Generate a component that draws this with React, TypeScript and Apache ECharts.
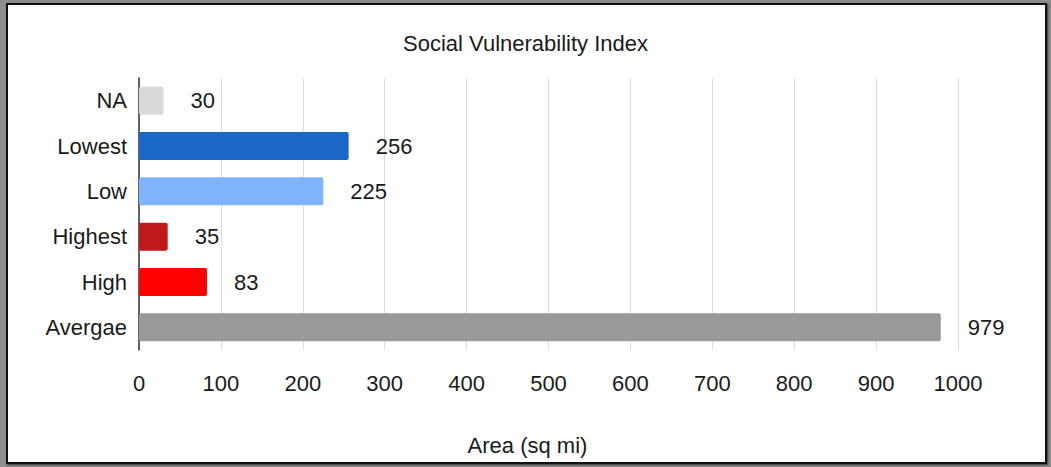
import React, { useEffect, useRef } from "react";
import * as echarts from "echarts";

const categories = ["NA", "Lowest", "Low", "Highest", "High", "Avergae"];
const values = [30, 256, 225, 35, 83, 979];
const barColors = ["#d9d9d9", "#1b67c5", "#7fb3fc", "#c0191b", "#ff0000", "#999999"];
const xTicks = { min: 0, max: 1000, interval: 100 };
const titleText = "Social Vulnerability Index";
const xAxisName = "Area (sq mi)";

const FONT = "'Liberation Sans', Arial, sans-serif";
const TXT = "#1a1a1a";

export default function App() {
  const ref = useRef<HTMLDivElement>(null);
  useEffect(() => {
    if (!ref.current) return;
    const chart = echarts.init(ref.current, null, { renderer: "svg" });
    chart.setOption({
      animation: false,
      title: {
        text: titleText,
        left: "center",
        top: 32,
        padding: 0,
        textStyle: { fontFamily: FONT, fontSize: 22, fontWeight: "normal", color: TXT },
      },
      grid: { left: 139, right: 93, top: 78, bottom: 117, containLabel: false },
      xAxis: {
        type: "value",
        min: xTicks.min,
        max: xTicks.max,
        interval: xTicks.interval,
        name: xAxisName,
        nameLocation: "middle",
        nameGap: 84,
        nameTextStyle: { fontFamily: FONT, fontSize: 22, color: TXT, padding: [0, 42, 0, 0] },
        axisLine: { show: false },
        axisTick: { show: false },
        axisLabel: {
          fontFamily: FONT,
          fontSize: 22,
          color: TXT,
          margin: 22,
          formatter: (v: number) => String(v),
        },
        splitLine: { show: true, lineStyle: { color: "#dcdcdc", width: 1 } },
      },
      yAxis: {
        type: "category",
        data: categories,
        inverse: true,
        axisLine: { show: true, lineStyle: { color: "#333", width: 1.5 } },
        axisTick: { show: false },
        axisLabel: { fontFamily: FONT, fontSize: 22, color: TXT, margin: 12 },
        splitLine: { show: false },
      },
      series: [
        {
          type: "bar",
          barWidth: 28,
          data: values.map((v, i) => ({
            value: v,
            itemStyle: { color: barColors[i], borderRadius: 2 },
          })),
          label: {
            show: true,
            position: "right",
            distance: 27,
            fontFamily: FONT,
            fontSize: 22,
            color: TXT,
          },
        },
      ],
    });
    return () => chart.dispose();
  }, []);

  return (
    <div style={{ position: "fixed", left: 0, top: 0, width: 1051, height: 467, background: "#8e8e8e", overflow: "hidden" }}>
      <div
        style={{
          position: "absolute",
          left: 6,
          top: 3,
          width: 1041 - 4,
          height: 461 - 4,
          border: "2px solid #111",
          background: "#fff",
          boxShadow: "1px 1px 2px #333",
        }}
      />
      <div ref={ref} style={{ position: "absolute", left: 0, top: 0, width: 1051, height: 467 }} />
    </div>
  );
}
